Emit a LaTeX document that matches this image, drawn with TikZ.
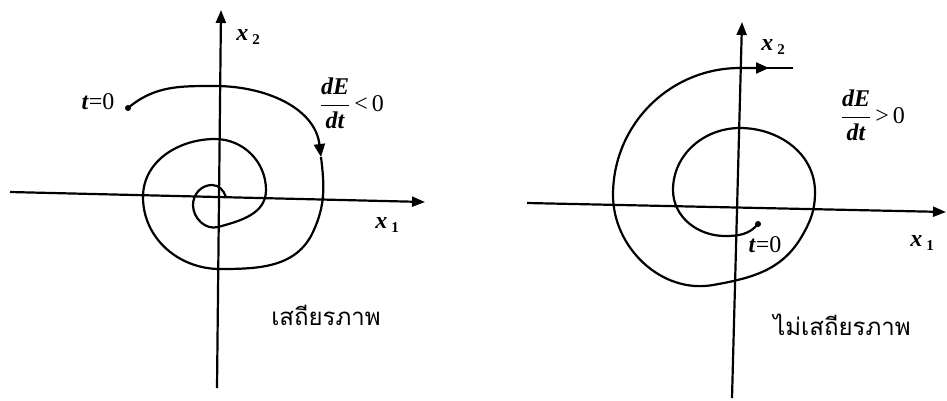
\documentclass[tikz,border=0pt]{standalone}
\usepackage{fontspec}
\setmainfont{Liberation Serif}
\newfontfamily\thaifont[Script=Thai]{Loma}
\usetikzlibrary{arrows.meta}
\newcommand{\bivar}[1]{\textbf{\textit{#1}}}
\begin{document}
\begin{tikzpicture}[x=1pt,y=1pt,
  axis/.style={line width=2.2pt,-{Triangle[length=13pt,width=10pt]}},
  traj/.style={line width=2.2pt},
  trajarrow/.style={line width=2.2pt,-{Triangle[length=13pt,width=11pt]}},
  lbl/.style={font=\fontsize{24}{28}\selectfont,inner sep=0pt},
  axlbl/.style={font=\fontsize{24}{28}\selectfont,inner sep=0pt},
  thailbl/.style={font=\thaifont\fontsize{24}{28}\selectfont,inner sep=0pt}]
\useasboundingbox (0,0) rectangle (947,-400);
% ---------- left diagram ----------
\coordinate (L1a) at (10,-192);
\coordinate (L1b) at (425,-202);
\coordinate (L2a) at (217,-388);
\coordinate (L2b) at (221,-10);
\draw[axis] (L1a) -- (L1b);
\draw[axis] (L2a) -- (L2b);
\coordinate (LP0) at (128,-108);
\coordinate (LP1) at (215,-86);
\coordinate (LP2) at (321,-157);
\coordinate (LP3) at (313,-232);
\coordinate (LP4) at (220,-269);
\coordinate (LP5) at (143,-197);
\coordinate (LP6) at (215,-139);
\coordinate (LP7) at (266,-190);
\coordinate (LP8) at (218,-227);
\coordinate (LP9) at (193,-205);
\coordinate (LP10) at (212,-185);
\coordinate (LP11) at (226,-197);
\draw[trajarrow] (LP0) to[out=40,in=180] (LP1) to[out=0,in=97] (LP2);
\draw[traj] (LP2) to[out=-83,in=65] (LP3) to[out=-115,in=0] (LP4)
  to[out=180,in=-90] (LP5) to[out=90,in=180] (LP6) to[out=0,in=90] (LP7)
  to[out=-90,in=15] (LP8) to[out=195,in=-90] (LP9) to[out=90,in=180] (LP10)
  to[out=0,in=110] (LP11);
\fill (LP0) circle (3);
\node[axlbl] (Lx2) at (248,-37) {\bivar{x}\,\raisebox{-0.3ex}{\fontsize{15}{18}\selectfont\textbf{2}}};
\node[axlbl] (Lx1) at (387,-225) {\bivar{x}\,\raisebox{-0.4ex}{\fontsize{15}{18}\selectfont\textbf{1}}};
\node[lbl] (Lt0) at (98,-102) {\bivar{t}{=}0};
\node[lbl] (LdE) at (352,-103) {$\displaystyle\frac{\mbox{\bivar{dE}}}{\mbox{\bivar{dt}}}$\,{<}\,0};
\node[thailbl] (Lth) at (326,-315) {เสถียรภาพ};
% ---------- right diagram ----------
\coordinate (R1a) at (527,-203);
\coordinate (R1b) at (946,-212);
\coordinate (R2a) at (732,-398);
\coordinate (R2b) at (742,-22);
\draw[axis] (R1a) -- (R1b);
\draw[axis] (R2a) -- (R2b);
\coordinate (RP0) at (758,-224);
\coordinate (RP1) at (725,-236);
\coordinate (RP2) at (673,-190);
\coordinate (RP3) at (740,-128);
\coordinate (RP4) at (815,-192);
\coordinate (RP4b) at (802,-236);
\coordinate (RP5) at (713,-285);
\coordinate (RP6) at (613,-195);
\coordinate (RP7) at (740,-68);
\coordinate (RP8) at (769,-68);
\coordinate (RP9) at (793,-68);
\draw[trajarrow] (RP0) to[out=-130,in=0] (RP1) to[out=180,in=-90] (RP2)
  to[out=90,in=180] (RP3) to[out=0,in=90] (RP4) to[out=-90,in=60] (RP4b)
  to[out=-120,in=10] (RP5)
  to[out=190,in=-90] (RP6) to[out=90,in=180] (RP7) -- (RP8);
\draw[traj] (765,-68) -- (RP9);
\fill (RP0) circle (3);
\node[axlbl] (Rx2) at (773,-47) {\bivar{x}\,\raisebox{-0.3ex}{\fontsize{15}{18}\selectfont\textbf{2}}};
\node[axlbl] (Rx1) at (922,-243) {\bivar{x}\,\raisebox{-0.4ex}{\fontsize{15}{18}\selectfont\textbf{1}}};
\node[lbl] (Rt0) at (765,-245) {\bivar{t}{=}0};
\node[lbl] (RdE) at (873,-115) {$\displaystyle\frac{\mbox{\bivar{dE}}}{\mbox{\bivar{dt}}}$\,{>}\,0};
\node[thailbl] (Rth) at (842,-325) {ไม่เสถียรภาพ};
\end{tikzpicture}
\end{document}
